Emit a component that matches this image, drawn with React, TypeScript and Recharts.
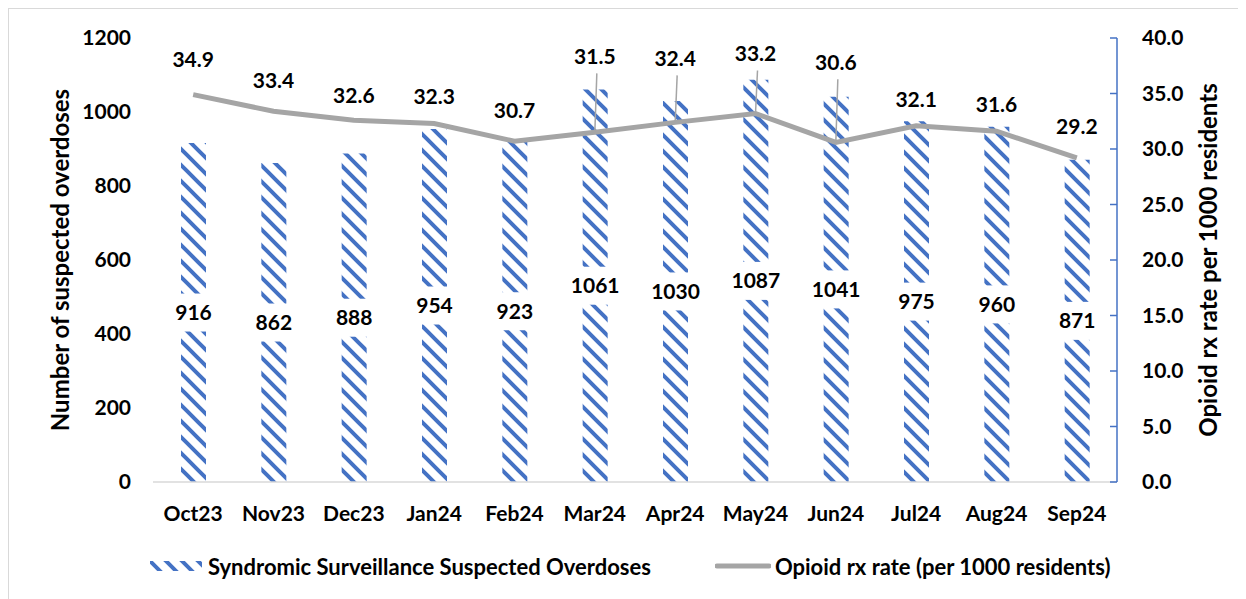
import { Bar, ComposedChart, LabelList, Line, XAxis, YAxis } from "recharts";

const months = ["Oct23", "Nov23", "Dec23", "Jan24", "Feb24", "Mar24", "Apr24", "May24", "Jun24", "Jul24", "Aug24", "Sep24"];
const overdoses = [916, 862, 888, 954, 923, 1061, 1030, 1087, 1041, 975, 960, 871];
const rxRate = [34.9, 33.4, 32.6, 32.3, 30.7, 31.5, 32.4, 33.2, 30.6, 32.1, 31.6, 29.2];
const leftTicks = [0, 200, 400, 600, 800, 1000, 1200];
const rightTicks = [0, 5, 10, 15, 20, 25, 30, 35, 40];

// how far above its point each rate label sits (px); the big ones get a leader line
const rateLabelLift = [35, 31, 24, 27, 31, 76, 64, 60, 80, 26, 27, 31];

const BLUE = "#4472C4";
const GRAY = "#A5A5A5";
const FONT = "Lato, 'Noto Sans', sans-serif";
const FS = 21;
const TITLE_FS = 24;
const LEGEND_FS = 22;

const data = months.map((m, i) => ({ month: m, overdoses: overdoses[i], rate: rxRate[i] }));

function Hatch({ id }: { id: string }) {
  return (
    <pattern id={id} patternUnits="userSpaceOnUse" width={16} height={16}>
      <path d="M-4,12 L4,20 M0,0 L16,16 M12,-4 L20,4" stroke={BLUE} strokeWidth={4} />
    </pattern>
  );
}

function RightTick(props: any) {
  const { x, y, payload } = props;
  return (
    <g>
      <line x1={x - 7} x2={x} y1={y} y2={y} stroke={BLUE} strokeWidth={1.5} />
      <text x={x + 25} y={y} dy="0.35em" fill="#000" fontSize={FS} fontWeight={700} fontFamily={FONT}>
        {Number(payload.value).toFixed(1)}
      </text>
    </g>
  );
}

function BarValue(props: any) {
  const { x, y, width, height, value } = props;
  const cx = x + width / 2;
  const cy = y + height / 2;
  return (
    <g>
      <rect x={cx - 26} y={cy - 19} width={52} height={38} fill="#fff" />
      <text x={cx} y={cy} dy="0.35em" textAnchor="middle" fill="#000" fontSize={FS} fontWeight={700} fontFamily={FONT}>
        {value}
      </text>
    </g>
  );
}

function RateValue(props: any) {
  const { x, y, value, index } = props;
  const lift = rateLabelLift[index];
  const ty = y - lift;
  return (
    <g>
      {lift > 50 && <line x1={x + 2} y1={ty + 17} x2={x} y2={y} stroke={GRAY} strokeWidth={1.5} />}
      <text x={x} y={ty} dy="0.35em" textAnchor="middle" fill="#000" fontSize={FS} fontWeight={700} fontFamily={FONT}>
        {Number(value).toFixed(1)}
      </text>
    </g>
  );
}

const tickStyle = { fill: "#000", fontSize: FS, fontWeight: 700, fontFamily: FONT };
const titleStyle = { fill: "#000", fontSize: TITLE_FS, fontWeight: 700, fontFamily: FONT };

export default function App() {
  return (
    <div
      style={{
        position: "relative",
        width: 1238,
        height: 591,
        borderTop: "1px solid #D9D9D9",
        borderLeft: "1px solid #D9D9D9",
        background: "#fff",
        fontFamily: FONT,
      }}
    >
      <ComposedChart width={1237} height={590} data={data} margin={{ top: 29, right: 0, bottom: 87, left: 0 }}>
        <defs>
          <Hatch id="hatch" />
        </defs>
        <XAxis
          dataKey="month"
          interval={0}
          tickLine={false}
          tickSize={0}
          tickMargin={24}
          axisLine={{ stroke: "#D9D9D9", strokeWidth: 1.5 }}
          tick={tickStyle}
          height={30}
        />
        <YAxis
          yAxisId="left"
          domain={[0, 1200]}
          ticks={leftTicks}
          width={144}
          axisLine={false}
          tickLine={false}
          tickSize={0}
          tickMargin={22}
          tick={tickStyle}
          label={{
            value: "Number of suspected overdoses",
            angle: -90,
            position: "center",
            dx: -21,
            style: titleStyle,
          }}
        />
        <YAxis
          yAxisId="right"
          orientation="right"
          domain={[0, 40]}
          ticks={rightTicks}
          width={129}
          axisLine={{ stroke: BLUE, strokeWidth: 1.5 }}
          tickLine={false}
          tickSize={0}
          tickMargin={0}
          tick={<RightTick />}
          label={{
            value: "Opioid rx rate per 1000 residents",
            angle: -90,
            position: "center",
            dx: 27,
            style: titleStyle,
          }}
        />
        <Bar yAxisId="left" dataKey="overdoses" barSize={25} fill="url(#hatch)" isAnimationActive={false}>
          <LabelList dataKey="overdoses" content={<BarValue />} />
        </Bar>
        <Line
          yAxisId="right"
          dataKey="rate"
          type="linear"
          stroke={GRAY}
          strokeWidth={5}
          dot={false}
          activeDot={false}
          isAnimationActive={false}
        >
          <LabelList dataKey="rate" content={<RateValue />} />
        </Line>
      </ComposedChart>
      <div
        style={{
          position: "absolute",
          top: 544,
          left: 141,
          height: 26,
          display: "flex",
          alignItems: "center",
          fontSize: LEGEND_FS,
          fontWeight: 700,
          color: "#000",
          whiteSpace: "nowrap",
        }}
      >
        <svg width={52} height={10} style={{ marginRight: 6 }}>
          <defs>
            <Hatch id="hatchLegend" />
          </defs>
          <rect x={0} y={0} width={52} height={10} fill="url(#hatchLegend)" />
        </svg>
        <span>Syndromic Surveillance Suspected Overdoses</span>
        <svg width={56} height={10} style={{ marginLeft: 64, marginRight: 4 }}>
          <line x1={2} x2={54} y1={5} y2={5} stroke={GRAY} strokeWidth={5} strokeLinecap="round" />
        </svg>
        <span>Opioid rx rate (per 1000 residents)</span>
      </div>
    </div>
  );
}
